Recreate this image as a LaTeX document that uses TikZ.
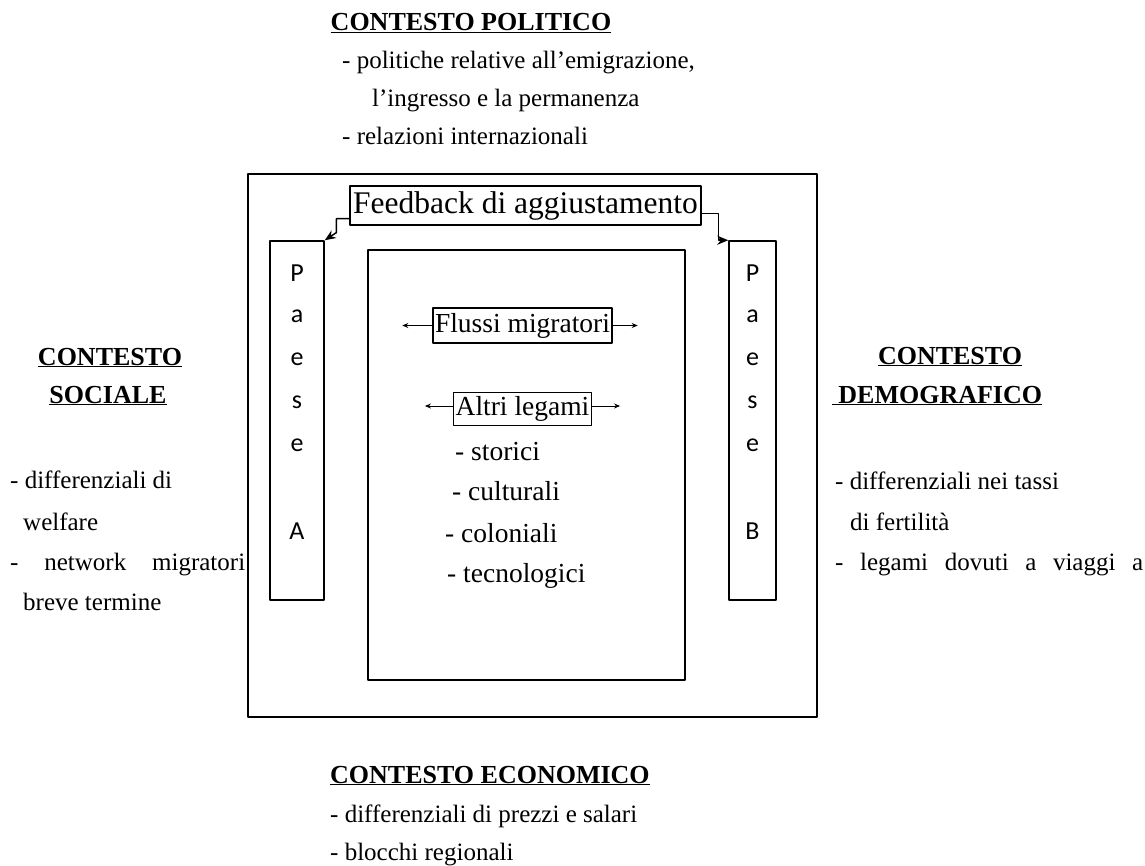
\documentclass[tikz,border=0pt]{standalone}
\usepackage{fontspec}
\setmainfont{Liberation Serif}
\newfontfamily\paesefont{Carlito}
\usetikzlibrary{arrows.meta}
\begin{document}
\begin{tikzpicture}[x=1pt, y=-1pt, >={Stealth[length=11pt,width=9pt]}, line join=round,
	box/.style={draw, line width=1.5pt},
	tag/.style={draw, line width=1.5pt, inner xsep=2pt, inner ysep=5pt},
	txt/.style={anchor=base west, inner sep=0pt, font=\fontsize{25}{28}\selectfont},
	head/.style={anchor=base, inner sep=0pt, font=\fontsize{26}{29}\selectfont\bfseries},
	lett/.style={inner sep=0pt, font=\fontsize{26}{28}\selectfont\paesefont},
	small/.style={line width=1pt, -{Stealth[length=6pt,width=5pt]}}]
	\useasboundingbox (0,0) rectangle (1145,866);
	% cornice e riquadro centrale
	\draw[box] (248,174) rectangle (817,717);
	\draw[box] (368,250) rectangle (685,680);
	% paesi
	\node[box, minimum width=54, minimum height=359] (pA) at (297,420.5) {};
	\node[box, minimum width=47, minimum height=359] (pB) at (752.5,420.5) {};
	\foreach \l [count=\i] in {P,a,e,s,e}{
		\node[lett] (a\i) at (297,230+43*\i) {\l};
		\node[lett] (b\i) at (752.5,230+43*\i) {\l};
	}
	\node[lett] (a6) at (297,531) {A};
	\node[lett] (b6) at (752.5,531) {B};
	% feedback
	\node[tag, inner xsep=3pt, font=\fontsize{31.5}{34}\selectfont] (fb) at (525.5,205.5) {Feedback di aggiustamento};
	\draw[->, line width=1.5pt] ([yshift=7pt]fb.south west) -- ++(-13,0) -- ++(0,14) -- (pA.north east);
	\draw[->, line width=1.5pt] ([yshift=12pt]fb.south east) -- ++(17,0) |- (pB.north west);
	% legami
	\node[tag, font=\fontsize{27.5}{30}\selectfont] (fm) at (522.5,325.5) {Flussi migratori};
	\draw[small] (fm.west) -- ++(-30,0);
	\draw[small] (fm.east) -- ++(25,0);
	\node[tag, inner ysep=4pt, font=\fontsize{27.5}{30}\selectfont] (al) at (522.5,409) {Altri legami};
	\draw[small] ([yshift=3pt]al.west) -- ++(-28,0);
	\draw[small] ([yshift=3pt]al.east) -- ++(28,0);
	\node[txt, font=\fontsize{27.5}{30}\selectfont] (l1) at (455,460) {- storici};
	\node[txt, font=\fontsize{27.5}{30}\selectfont] (l2) at (452,500) {- culturali};
	\node[txt, font=\fontsize{27.5}{30}\selectfont] (l3) at (445,542) {- coloniali};
	\node[txt, font=\fontsize{27.5}{30}\selectfont] (l4) at (447,582) {- tecnologici};
	% contesto politico
	\node[head] (pol) at (471,31) {\underline{CONTESTO POLITICO}};
	\node[txt] (p1) at (342,69) {- politiche relative all’emigrazione,};
	\node[txt] (p2) at (372,107) {l’ingresso e la permanenza};
	\node[txt] (p3) at (342,145) {- relazioni internazionali};
	% contesto sociale
	\node[head] (soc1) at (110,365) {\underline{CONTESTO}};
	\node[head] (soc2) at (108,403) {\underline{SOCIALE}};
	\node[txt] (s1) at (10,488) {- differenziali di};
	\node[txt] (s2) at (23,530) {welfare};
	\node[txt] (s3) at (10,570) {\makebox[235pt][s]{- network migratori}};
	\node[txt] (s4) at (23,610) {breve termine};
	% contesto demografico
	\node[head] (dem1) at (950,364) {\underline{CONTESTO}};
	\node[head] (dem2) at (937,403) {\underline{\ DEMOGRAFICO}};
	\node[txt] (d1) at (835,489) {- differenziali nei tassi};
	\node[txt] (d2) at (850,530) {di fertilità};
	\node[txt] (d3) at (835,570) {\makebox[308pt][s]{- legami dovuti a viaggi a}};
	% contesto economico
	\node[head, anchor=base west] (eco) at (330,783) {\underline{CONTESTO ECONOMICO}};
	\node[txt] (e1) at (330,822) {- differenziali di prezzi e salari};
	\node[txt] (e2) at (330,860) {- blocchi regionali};
\end{tikzpicture}
\end{document}
